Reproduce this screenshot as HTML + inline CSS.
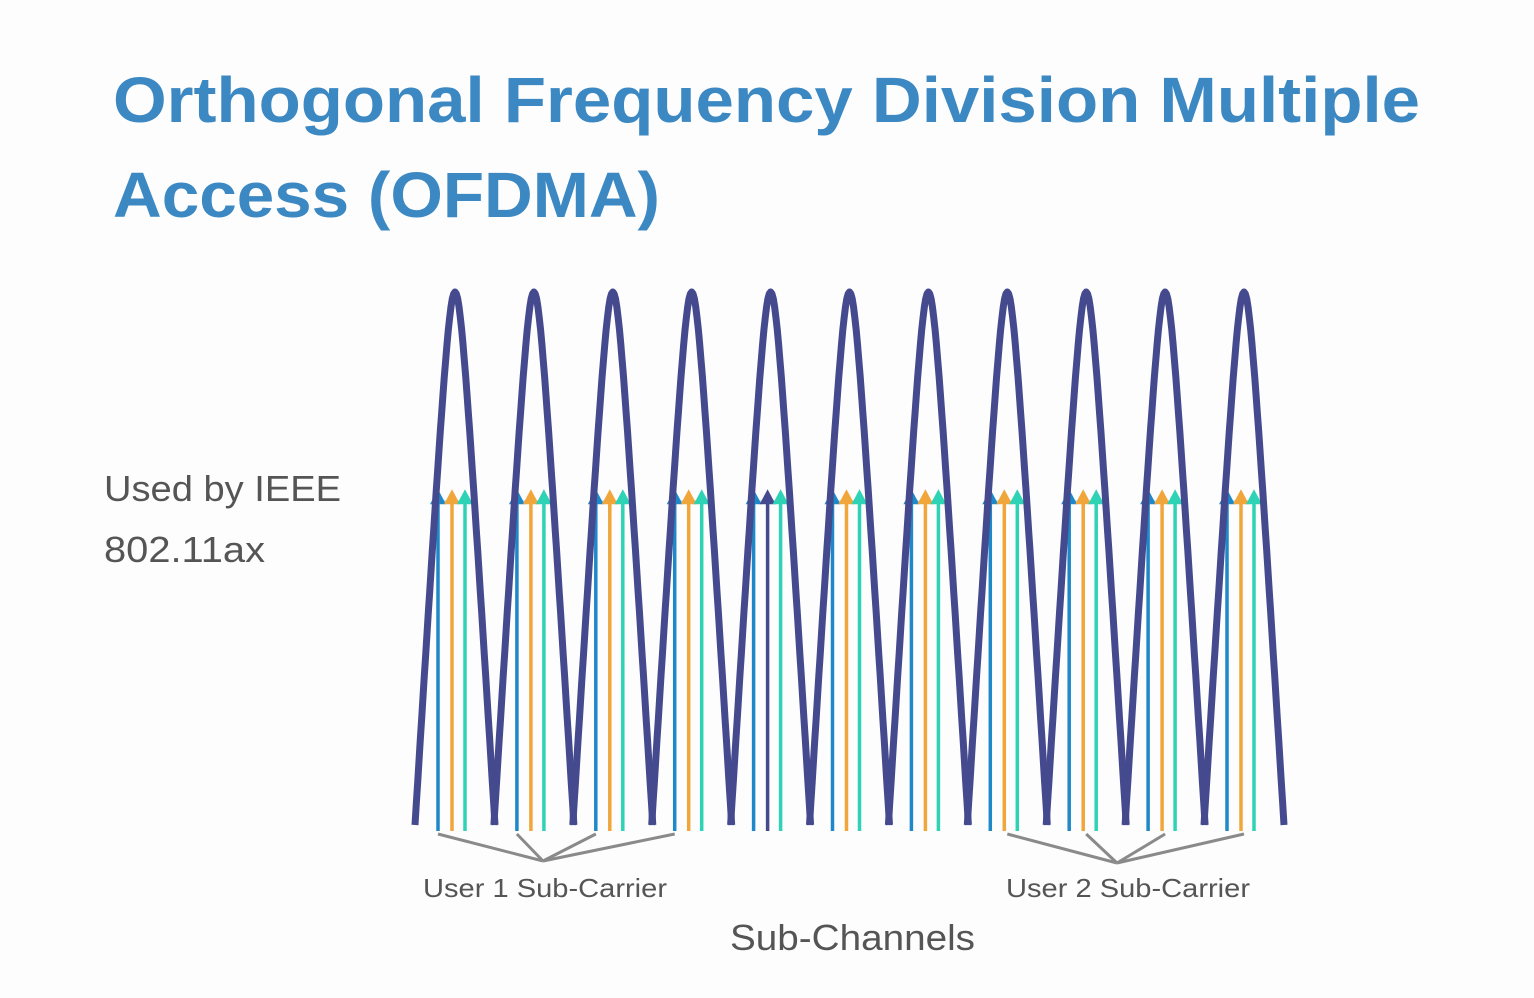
<!DOCTYPE html>
<html><head><meta charset="utf-8"><style>
html,body{margin:0;padding:0;background:#fff;}
svg{display:block;}
</style></head><body>
<svg id="chart" width="1534" height="998" viewBox="0 0 1534 998" xmlns="http://www.w3.org/2000/svg">
<rect width="1534" height="998" fill="#fdfdfd"/>
<text x="113" y="122" font-family="Liberation Sans, sans-serif" font-weight="bold" font-size="64" fill="#3b88c3" textLength="1307" lengthAdjust="spacingAndGlyphs">Orthogonal Frequency Division Multiple</text>
<text x="113" y="217" font-family="Liberation Sans, sans-serif" font-weight="bold" font-size="64" fill="#3b88c3" textLength="547" lengthAdjust="spacingAndGlyphs">Access (OFDMA)</text>
<text x="104" y="501" font-family="Liberation Sans, sans-serif" font-size="36" fill="#555" textLength="237" lengthAdjust="spacingAndGlyphs">Used by IEEE</text>
<text x="104" y="562" font-family="Liberation Sans, sans-serif" font-size="36" fill="#555" textLength="161" lengthAdjust="spacingAndGlyphs">802.11ax</text>
<g id="carriers"></g>
<g id="waves"></g>
<g id="brackets"></g>
<text x="423" y="897" font-family="Liberation Sans, sans-serif" font-size="26" fill="#555" textLength="244" lengthAdjust="spacingAndGlyphs">User 1 Sub-Carrier</text>
<text x="1006" y="897" font-family="Liberation Sans, sans-serif" font-size="26" fill="#555" textLength="244" lengthAdjust="spacingAndGlyphs">User 2 Sub-Carrier</text>
<text x="730" y="950" font-family="Liberation Sans, sans-serif" font-size="36" fill="#555" textLength="245" lengthAdjust="spacingAndGlyphs">Sub-Channels</text>
</svg>
<script>
const channels = [0,1,2,3,4,5,6,7,8,9,10];
const peakValues = [1,1,1,1,1,1,1,1,1,1,1];
const carrierOffsets = [-17,-3,10];
const carrierValues = [0.63,0.63,0.63];
const carrierColors = [["#1e88c8","#f0a63a","#2ed3b5"],["#1e88c8","#f0a63a","#2ed3b5"],["#1e88c8","#f0a63a","#2ed3b5"],["#1e88c8","#f0a63a","#2ed3b5"],["#1e88c8","#454a8f","#2ed3b5"],["#1e88c8","#f0a63a","#2ed3b5"],["#1e88c8","#f0a63a","#2ed3b5"],["#1e88c8","#f0a63a","#2ed3b5"],["#1e88c8","#f0a63a","#2ed3b5"],["#1e88c8","#f0a63a","#2ed3b5"],["#1e88c8","#f0a63a","#2ed3b5"]];
const user1Channels = [0,1,2,3];
const user2Channels = [7,8,9,10];

const NS="http://www.w3.org/2000/svg";
const xScale = i => 455 + i*78.9;
const yScale = v => 825 - v*533;
const halfW = 40;
const e=0.045, norm=Math.sqrt(1+e)-Math.sqrt(e);
const shape = t => 1-(Math.sqrt(t*t+e)-Math.sqrt(e))/norm;

const wg=document.getElementById('waves');
channels.forEach((c,i)=>{
  const cx=xScale(c); let d="";
  for(let k=0;k<=60;k++){
    const t=-1+k/30; const x=cx+t*halfW;
    const y=yScale(peakValues[i]*shape(t));
    d+=(k?"L":"M")+x.toFixed(1)+","+y.toFixed(1);
  }
  const p=document.createElementNS(NS,'path');
  p.setAttribute('d',d);p.setAttribute('fill','none');p.setAttribute('stroke','#454a8f');p.setAttribute('stroke-width','7');p.setAttribute('stroke-linejoin','round');
  
  
  wg.appendChild(p);
});

const cg=document.getElementById('carriers');
channels.forEach((c,i)=>{
  const cx=xScale(c);
  const hb=document.createElementNS(NS,'line');
  hb.setAttribute('x1',cx-19);hb.setAttribute('x2',cx+12);hb.setAttribute('y1',501);hb.setAttribute('y2',501);
  hb.setAttribute('stroke','#bfe6f0');hb.setAttribute('stroke-width','2');
  
  
  cg.appendChild(hb);
  carrierOffsets.forEach((o,j)=>{
    const x=cx+o, col=carrierColors[i][j], top=yScale(carrierValues[j]);
    const l=document.createElementNS(NS,'line');
    l.setAttribute('x1',x);l.setAttribute('x2',x);l.setAttribute('y1',top+10);l.setAttribute('y2',831);
    l.setAttribute('stroke',col);l.setAttribute('stroke-width','3.5');
    
    
    cg.appendChild(l);
    const a=document.createElementNS(NS,'polygon');
    a.setAttribute('points',`${x-8},${top+15} ${x},${top} ${x+8},${top+15}`);
    a.setAttribute('fill',col);
    
    
    cg.appendChild(a);
  });
});

const bg=document.getElementById('brackets');
function bracket(list,off,tx,ty,name){
  list.forEach(c=>{
    const l=document.createElementNS(NS,'line');
    l.setAttribute('x1',xScale(c)+off);l.setAttribute('y1',834);l.setAttribute('x2',tx);l.setAttribute('y2',ty);
    l.setAttribute('stroke','#8a8a8a');l.setAttribute('stroke-width','3');
    
    
    bg.appendChild(l);
  });
}
bracket(user1Channels,-17,543,861,'user-1-bracket');
bracket(user2Channels,0,1117,863,'user-2-bracket');
</script>
</body></html>
